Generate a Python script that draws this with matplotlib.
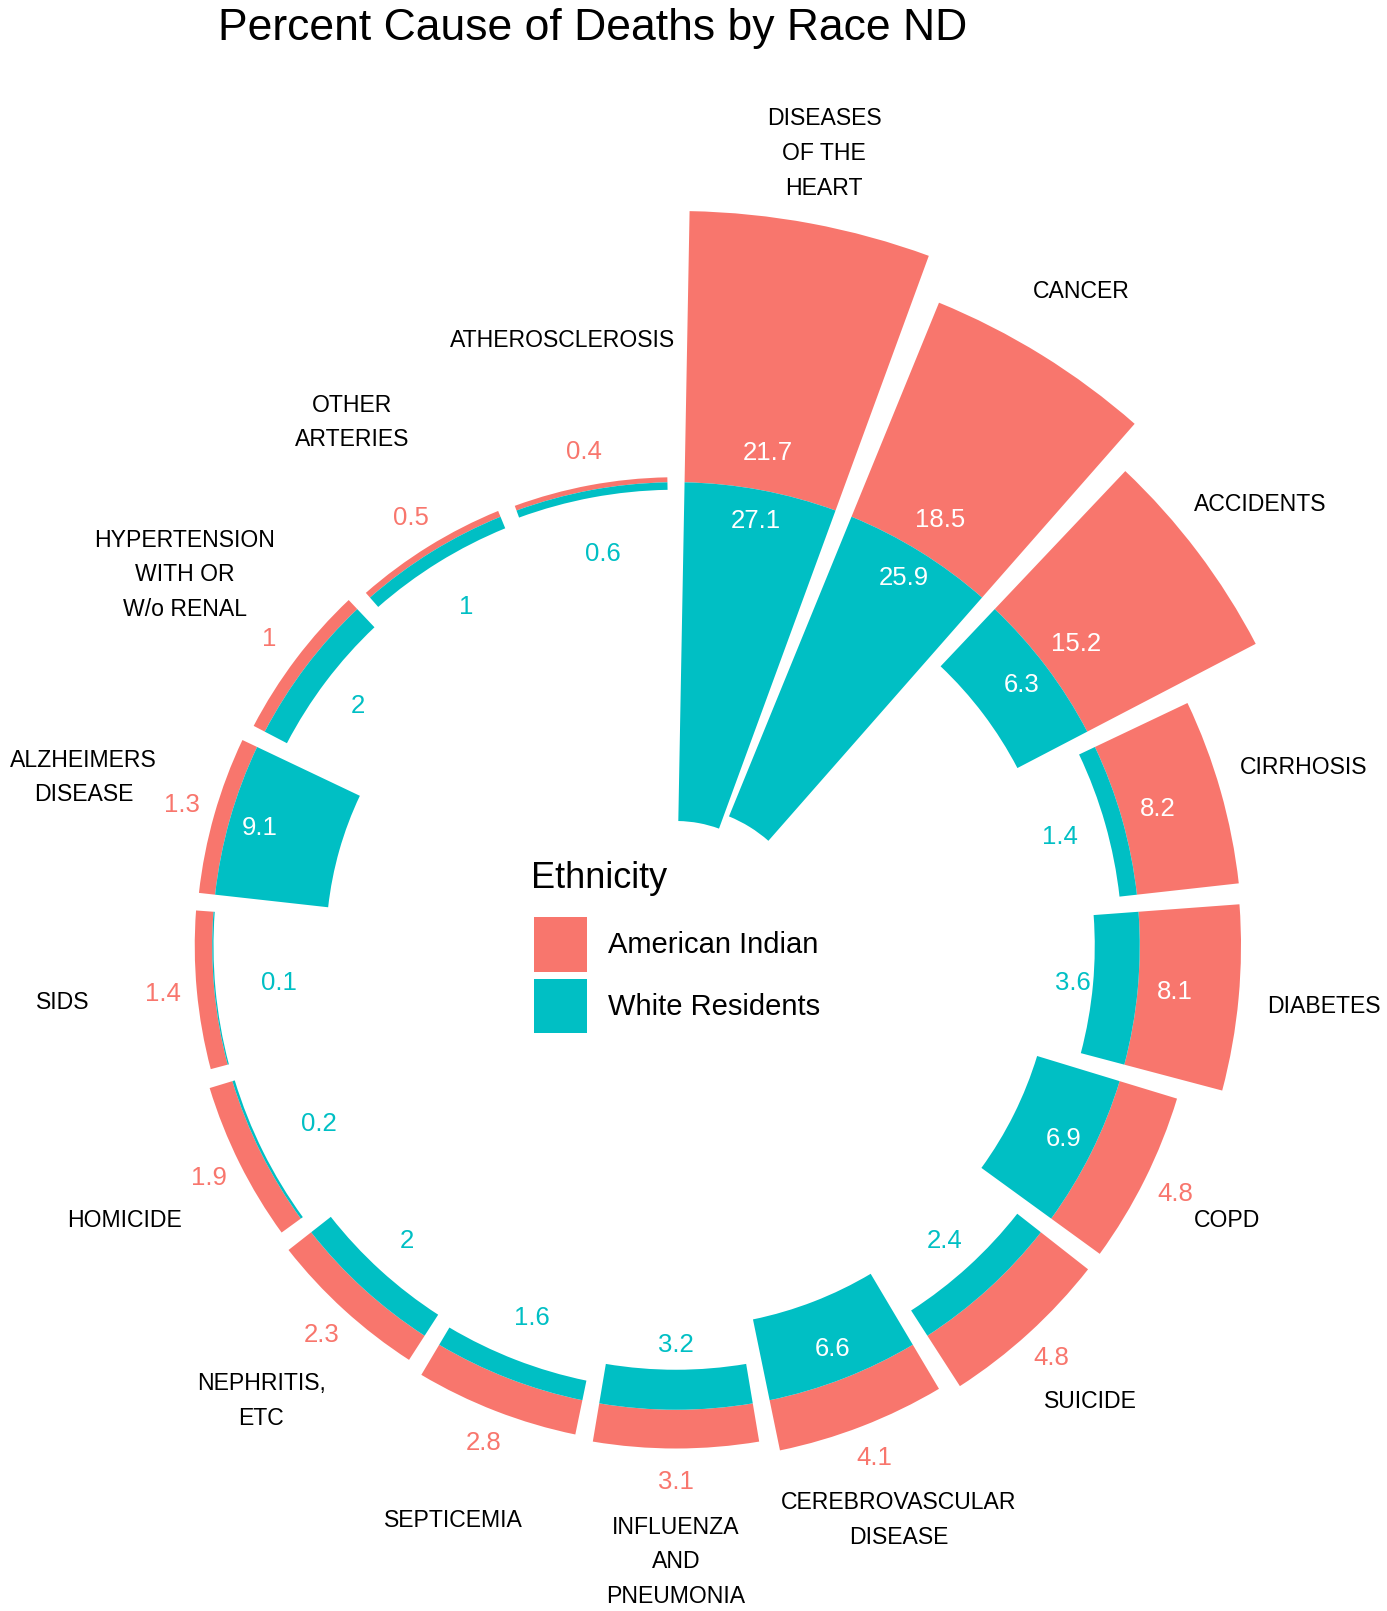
import numpy as np
import matplotlib
matplotlib.use("Agg")
import matplotlib.pyplot as plt
from matplotlib.patches import Patch

plt.rcParams['font.family'] = ['Liberation Sans', 'DejaVu Sans']

categories = ["DISEASES\nOF THE\nHEART", "CANCER", "ACCIDENTS", "CIRRHOSIS", "DIABETES",
              "COPD", "SUICIDE", "CEREBROVASCULAR\nDISEASE", "INFLUENZA\nAND\nPNEUMONIA",
              "SEPTICEMIA", "NEPHRITIS,\nETC", "HOMICIDE", "SIDS", "ALZHEIMERS\nDISEASE",
              "HYPERTENSION\nWITH OR\nW/o RENAL", "OTHER\nARTERIES", "ATHEROSCLEROSIS"]
american_indian = [21.7, 18.5, 15.2, 8.2, 8.1, 4.8, 4.8, 4.1, 3.1, 2.8, 2.3, 1.9, 1.4, 1.3, 1.0, 0.5, 0.4]
white_residents = [27.1, 25.9, 6.3, 1.4, 3.6, 6.9, 2.4, 6.6, 3.2, 1.6, 2.0, 0.2, 0.1, 9.1, 2.0, 1.0, 0.6]
series_names = ["American Indian", "White Residents"]
title = "Percent Cause of Deaths by Race ND"
legend_title = "Ethnicity"

C_AI = "#F8766D"
C_W = "#00BFC4"

W_PX, H_PX = 1387, 1611
fig = plt.figure(figsize=(W_PX / 100, H_PX / 100), dpi=100)

cx, cy = 676, 946          # centre in px (from top)
px_per_unit = 12.5
rmin, rmax = -37.1, 23.0
rad_px = (rmax - rmin) * px_per_unit
ax = fig.add_axes([(cx - rad_px) / W_PX, (H_PX - cy - rad_px) / H_PX,
                   2 * rad_px / W_PX, 2 * rad_px / H_PX], projection='polar')
ax.set_theta_zero_location('N')
ax.set_theta_direction(-1)
ax.set_ylim(rmin, rmax)
ax.set_xlim(0, 2 * np.pi)
ax.axis('off')

n = len(categories)
step = 2 * np.pi / n
theta = (np.arange(n) + 0.5) * step
width = 0.9 * step

ai = np.array(american_indian)
wr = np.array(white_residents)

ax.bar(theta, ai, width=width, bottom=0, color=C_AI, linewidth=0, label=series_names[0])
ax.bar(theta, wr, width=width, bottom=-wr, color=C_W, linewidth=0, label=series_names[1])

val_fs = 18.5
cat_fs = 16.6
for t, name, a, w in zip(theta, categories, ai, wr):
    # American Indian value
    if a > 5:
        ax.text(t, 3.0, f"{a:g}", color="white", ha='center', va='center', fontsize=val_fs)
    else:
        ax.text(t, a + 2.7, f"{a:g}", color=C_AI, ha='center', va='center', fontsize=val_fs)
    # White residents value
    if w > 5:
        ax.text(t, -2.5, f"{w:g}", color="white", ha='center', va='center', fontsize=val_fs)
    else:
        ax.text(t, -5.2, f"{w:g}", color=C_W, ha='center', va='center', fontsize=val_fs)
    # category label
    r_lab = 0.912 * max(a, 5.0) + 7.6
    ax.text(t, r_lab, name, color="black", ha='center', va='center', fontsize=cat_fs,
            linespacing=1.65, clip_on=False)

fig.text(218 / W_PX, 1 - 40 / H_PX, title, fontsize=32, ha='left', va='baseline', color='black')

# legend title and legend body
fig.text(531 / W_PX, 1 - 878 / H_PX, legend_title, fontsize=26, ha='left', va='center', color='black')
handles = [Patch(facecolor=C_AI, edgecolor='none'), Patch(facecolor=C_W, edgecolor='none')]
leg = fig.legend(handles, series_names, loc='upper left',
                 bbox_to_anchor=(534 / W_PX, 1 - 917 / H_PX), frameon=False,
                 fontsize=21, handlelength=1.8, handleheight=2.5,
                 labelspacing=0.24, handletextpad=0.75, borderpad=0.0, borderaxespad=0.0)

fig.savefig("out.png", dpi=100, facecolor='white')
